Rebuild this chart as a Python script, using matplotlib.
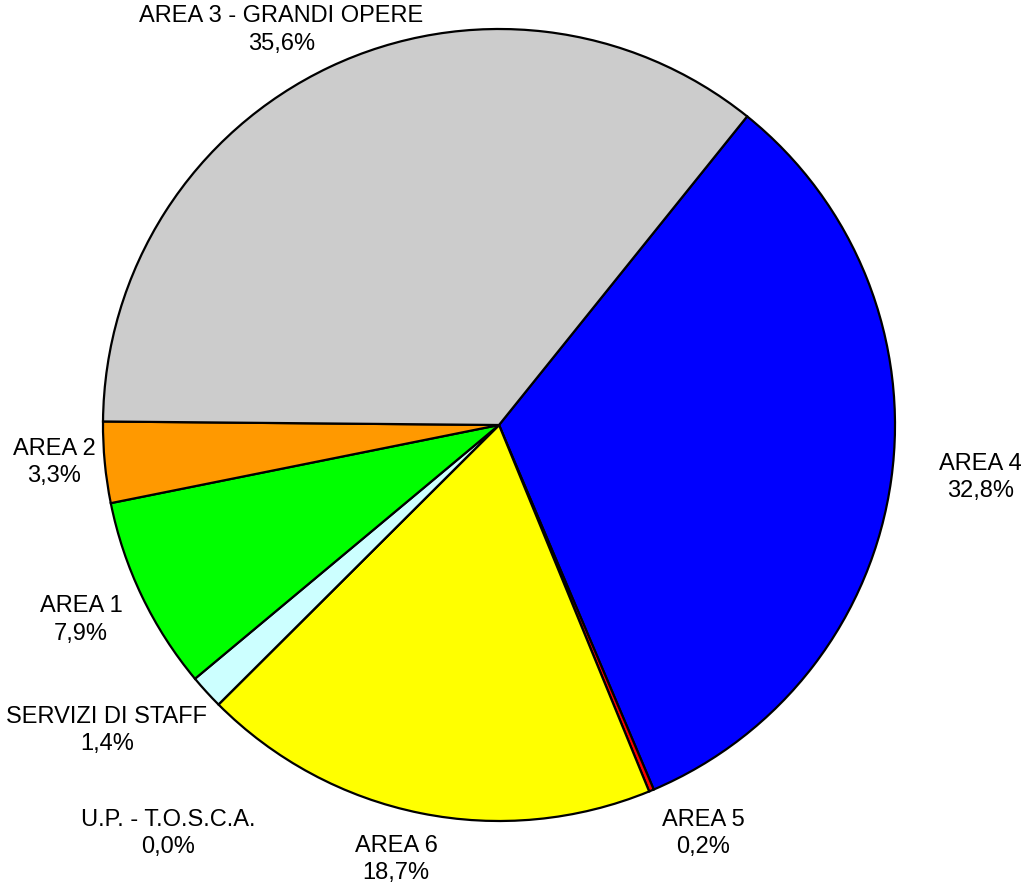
import matplotlib
matplotlib.use("Agg")
import matplotlib.pyplot as plt

plt.rcParams['font.family'] = ['Liberation Sans', 'DejaVu Sans']

# dati (ordine orario a partire da AREA 4)
aree = ["AREA 4", "AREA 5", "AREA 6", "U.P. - T.O.S.C.A.", "SERVIZI DI STAFF",
        "AREA 1", "AREA 2", "AREA 3 - GRANDI OPERE"]
percentuali = [32.8, 0.2, 18.7, 0.0, 1.4, 7.9, 3.3, 35.6]
colori = ["#0000FF", "#FF0000", "#FFFF00", "#FFFFFF", "#CCFFFF",
          "#00FF00", "#FF9900", "#CCCCCC"]

# posizione etichette (in unita' di raggio)
pos_etichette = [(1.215, -0.13), (0.515, -1.03), (-0.26, -1.095), (-0.835, -1.03),
                 (-0.99, -0.77), (-1.055, -0.49), (-1.123, -0.093), (-0.549, 1.0)]

fig = plt.figure(figsize=(10.21, 8.87), dpi=100)
ax = fig.add_axes([0, 0, 1, 1])

ax.pie(percentuali, colors=colori, startangle=51.2, counterclock=False,
       radius=1.0, wedgeprops=dict(edgecolor="black", linewidth=1.6))

for nome, p, (x, y) in zip(aree, percentuali, pos_etichette):
    testo = nome + "\n" + ("%.1f%%" % p).replace(".", ",")
    ax.text(x, y, testo, ha="center", va="center", fontsize=17,
            linespacing=1.3)

ax.set_xlim(-499 / 396, (1021 - 499) / 396)
ax.set_ylim(-461 / 396, 426 / 396)
ax.set_aspect("equal")
ax.axis("off")

fig.savefig("out.png", dpi=100)
